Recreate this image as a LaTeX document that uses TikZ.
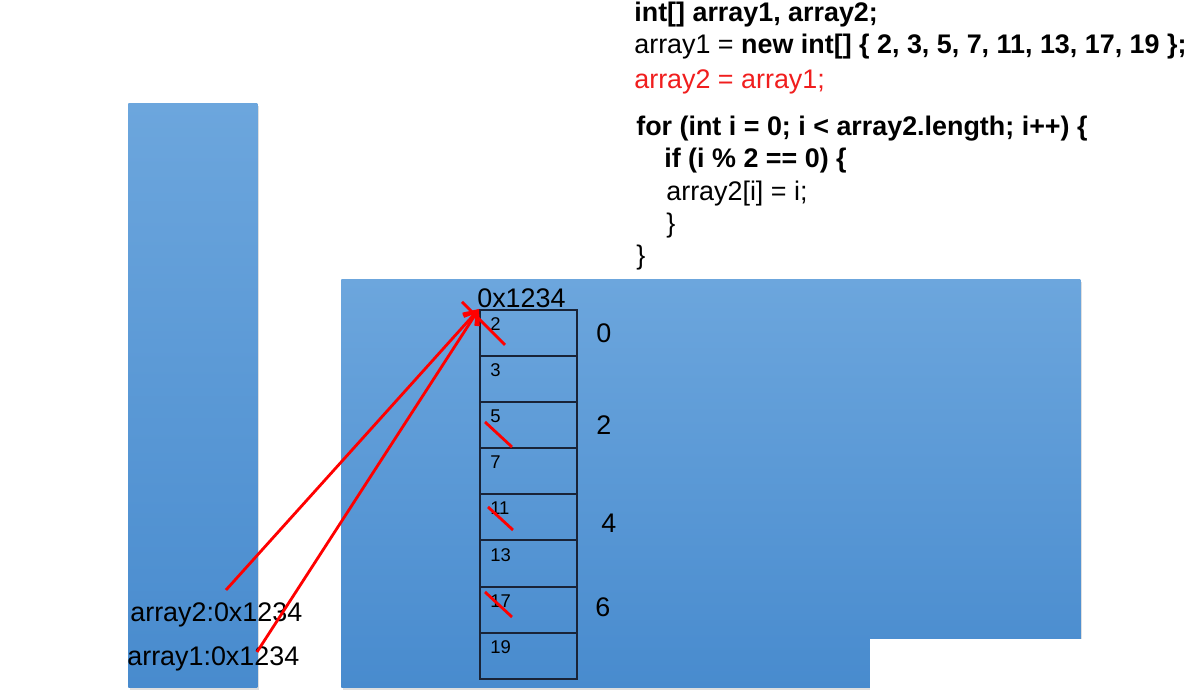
\documentclass[tikz,border=0pt]{standalone}
\usepackage{fontspec}
\setmainfont{Liberation Sans}
\usepackage{tikz}
\usetikzlibrary{arrows.meta,calc,shadows}
\definecolor{memtop}{RGB}{108,166,221}
\definecolor{membot}{RGB}{72,139,206}
\definecolor{codered}{RGB}{240,30,30}
\definecolor{celline}{RGB}{25,35,55}

\begin{document}
\begin{tikzpicture}[
    cell/.style={draw=celline, line width=1.1pt, minimum width=1.94cm, minimum height=0.922cm, inner sep=0},
    memory/.style={top color=memtop, bottom color=membot, draw=none, inner sep=0,
        drop shadow={opacity=0.25, shadow xshift=0.04cm, shadow yshift=-0.04cm}},
    codeline/.style={anchor=base west, inner sep=0, font=\fontsize{15.3}{17}\selectfont},
    ref/.style={red, line width=1.6pt, -{Straight Barb[length=7pt, width=10pt]}},
    cross/.style={red, line width=1.6pt}
]
\useasboundingbox (0,0) rectangle (24.06,13.84);

% Draw the stack and the heap
\node[memory, minimum width=2.58cm, minimum height=11.68cm, anchor=south west] (stack) at (2.56,0.08) {};
\node[memory, minimum width=14.78cm, minimum height=8.16cm, anchor=south west] (heap) at (6.82,0.08) {};
\fill[white] (17.4,0) rectangle (21.9,1.06);

% Draw the array cells
\foreach \v [count=\i from 0] in {2,3,5,7,11,13,17,19} {
    \node[cell, anchor=north west] (c\i) at (9.58,7.66-0.922*\i) {};
    \node[anchor=north west, inner sep=0, font=\fontsize{10.5}{12}\selectfont] (n\i) at ($(c\i.north west)+(0.22,-0.17)$) {\v};
}

% Add index labels
\node[codeline, anchor=center] (i0) at ($(c0.east)+(0.52,0)$) {0};
\node[codeline, anchor=center] (i2) at ($(c2.east)+(0.52,0)$) {2};
\node[codeline, anchor=center] (i4) at ($(c4.east)+(0.62,-0.12)$) {4};
\node[codeline, anchor=center] (i6) at ($(c6.east)+(0.5,0.05)$) {6};
\node[codeline] (addr) at ($(c0.north west)+(-0.04,0.02)$) {0x1234};

% Add the variables on the stack
\node[codeline] (a2) at (2.6,1.40) {array2:0x1234};
\node[codeline] (a1) at (2.54,0.52) {array1:0x1234};

% Draw the references
\coordinate (p2) at (4.52,2.04);
\coordinate (p1) at (5.14,0.80);
\draw[ref] (p2) -- (c0.north west);
\draw[ref] (p1) -- (c0.north west);

% Cross out the even elements
\draw[cross] (9.24,7.80) -- (10.10,6.94);
\draw[cross] (9.70,5.40) -- (10.24,4.90);
\draw[cross] (9.76,3.70) -- (10.26,3.24);
\draw[cross] (9.70,2.00) -- (10.24,1.50);

% Add the code
\node[codeline] (code1) at (12.68,13.40) {\textbf{int[] array1, array2;}};
\node[codeline] (code2) at (12.68,12.76) {array1 = \textbf{new int[] \{ 2, 3, 5, 7, 11, 13, 17, 19 \};}};
\node[codeline, text=codered] (code3) at (12.68,12.06) {array2 = array1;};
\node[codeline] (code4) at (12.72,11.12) {\textbf{for (int i = 0; i < array2.length; i++) \{}};
\node[codeline] (code5) at (13.28,10.48) {\textbf{if (i \% 2 == 0) \{}};
\node[codeline] (code6) at (13.32,9.82) {array2[i] = i;};
\node[codeline] (code7) at (13.32,9.18) {\}};
\node[codeline] (code8) at (12.72,8.54) {\}};
\end{tikzpicture}
\end{document}
